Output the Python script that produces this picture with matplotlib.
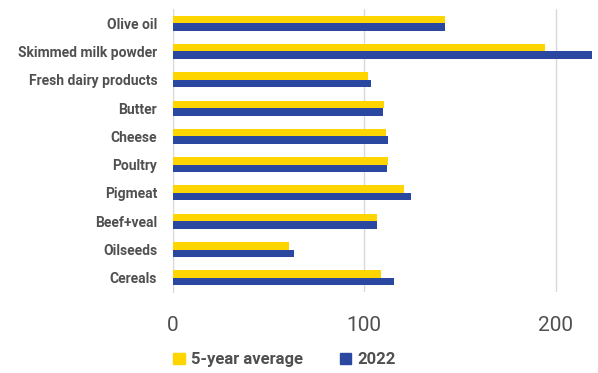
import numpy as np
import matplotlib.pyplot as plt
from matplotlib.patches import Patch

# === Data ===
products = ["Olive oil", "Skimmed milk powder", "Fresh dairy products", "Butter",
            "Cheese", "Poultry", "Pigmeat", "Beef+veal", "Oilseeds", "Cereals"]
avg_5y = [142, 194.5, 102, 110.2, 111.7, 112.4, 121, 106.9, 60.8, 108.8]
y2022 = [142, 226, 103.5, 110, 112.3, 112, 124.4, 107, 63.4, 115.7]

yellow = "#FFD500"
blue = "#2B48A0"
txt = "#505050"

fam = ['Roboto', 'DejaVu Sans']
plt.rcParams['font.family'] = fam

fig = plt.figure(figsize=(5.98, 3.73), dpi=100)
ax = fig.add_axes([0.2885, 0.217, 0.7015, 0.759])

y = np.arange(len(products))
h = 0.265
ax.barh(y - h / 2, avg_5y, height=h, color=yellow, zorder=3)
ax.barh(y + h / 2, y2022, height=h, color=blue, zorder=3)

ax.set_ylim(len(products) - 0.5, -0.5)
ax.set_xlim(0, 219)
ax.set_yticks(y)
ax.set_yticklabels(products, fontsize=10, color=txt, fontweight='bold')
ax.set_xticks([0, 100, 200])
ax.set_xticklabels(["0", "100", "200"], fontsize=15, color=txt)
ax.tick_params(axis='both', length=0)
ax.tick_params(axis='y', pad=11)
ax.tick_params(axis='x', pad=17)

ax.grid(axis='x', color="#D9D9D9", linewidth=1, zorder=0)
for s in ["top", "right", "bottom"]:
    ax.spines[s].set_visible(False)
ax.spines["left"].set_color("#D9D9D9")

handles = [Patch(color=yellow, label="5-year average"), Patch(color=blue, label="2022")]
fig.legend(handles=handles, loc="lower left", bbox_to_anchor=(0.265, -0.025), ncol=2,
           frameon=False, labelcolor=txt, handlelength=0.7, handleheight=0.7,
           columnspacing=2.2, handletextpad=0.35,
           prop={'family': fam, 'weight': 'bold', 'size': 12})

fig.savefig("out.png", dpi=100)
